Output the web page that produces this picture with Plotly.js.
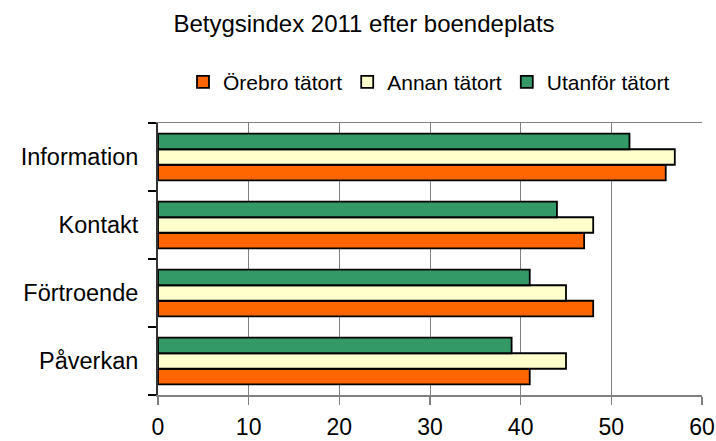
<!DOCTYPE html>
<html>
<head>
<meta charset="utf-8">
<script src="https://cdn.plot.ly/plotly-3.0.1.min.js"></script>
<style>html,body{margin:0;padding:0;background:#fff;}#chart{width:716px;height:441px;}</style>
</head>
<body>
<div id="chart"></div>
<script>
const categories = ["Information", "Kontakt", "Förtroende", "Påverkan"];
const seriesNames = ["Örebro tätort", "Annan tätort", "Utanför tätort"];
const orebro = [56, 47, 48, 41];
const annan = [57, 48, 45, 45];
const utanfor = [52, 44, 41, 39];
const xTicks = [0, 10, 20, 30, 40, 50, 60];
const colors = ["#FF6600", "#FFFFCC", "#339966"];
const titleText = "Betygsindex 2011 efter boendeplats";

const font = "Liberation Sans, Arial, sans-serif";
const values = [orebro, annan, utanfor];
const traces = values.map((v, i) => ({
  type: "bar",
  orientation: "h",
  name: seriesNames[i],
  y: categories,
  x: v,
  marker: {color: colors[i], line: {color: "#000000", width: 1.8}},
  hoverinfo: "x+y+name"
}));

const layout = {
  width: 716, height: 441,
  margin: {l: 158, r: 14, t: 123, b: 46, pad: 0},
  paper_bgcolor: "#ffffff", plot_bgcolor: "#ffffff",
  font: {family: font, size: 22, color: "#000000"},
  title: {text: titleText, font: {family: font, size: 24, color: "#000"},
          x: 364/716, xref: "container", xanchor: "center",
          y: 1 - 24/441, yref: "container", yanchor: "middle"},
  barmode: "group", bargap: 0.315, bargroupgap: 0,
  showlegend: true,
  legend: {orientation: "h", x: (429-158)/544, xanchor: "center", y: 1.15, yanchor: "middle",
           traceorder: "normal", font: {family: font, size: 21, color: "#000"},
           bgcolor: "rgba(0,0,0,0)"},
  xaxis: {range: [0, 60], tickvals: xTicks, ticktext: xTicks.map(String),
          showgrid: true, gridcolor: "#808080", gridwidth: 1,
          showline: true, linecolor: "#808080", linewidth: 1.5, mirror: true,
          ticks: "outside", ticklen: 8, tickcolor: "#808080", tickwidth: 1.5,
          ticklabelstandoff: 3,
          zeroline: false, fixedrange: true,
          tickfont: {family: font, size: 23, color: "#000"}},
  yaxis: {type: "category", categoryorder: "array", categoryarray: categories.slice().reverse(),
          showgrid: false, showline: true, linecolor: "#333333", linewidth: 2,
          ticks: "outside", tickson: "boundaries", ticklen: 8, tickcolor: "#000", tickwidth: 1.2,
          ticklabelstandoff: 13, fixedrange: true,
          tickfont: {family: font, size: 23.5, color: "#000"}}
};

Plotly.newPlot("chart", traces, layout, {displayModeBar: false, staticPlot: true});
</script>
</body>
</html>
